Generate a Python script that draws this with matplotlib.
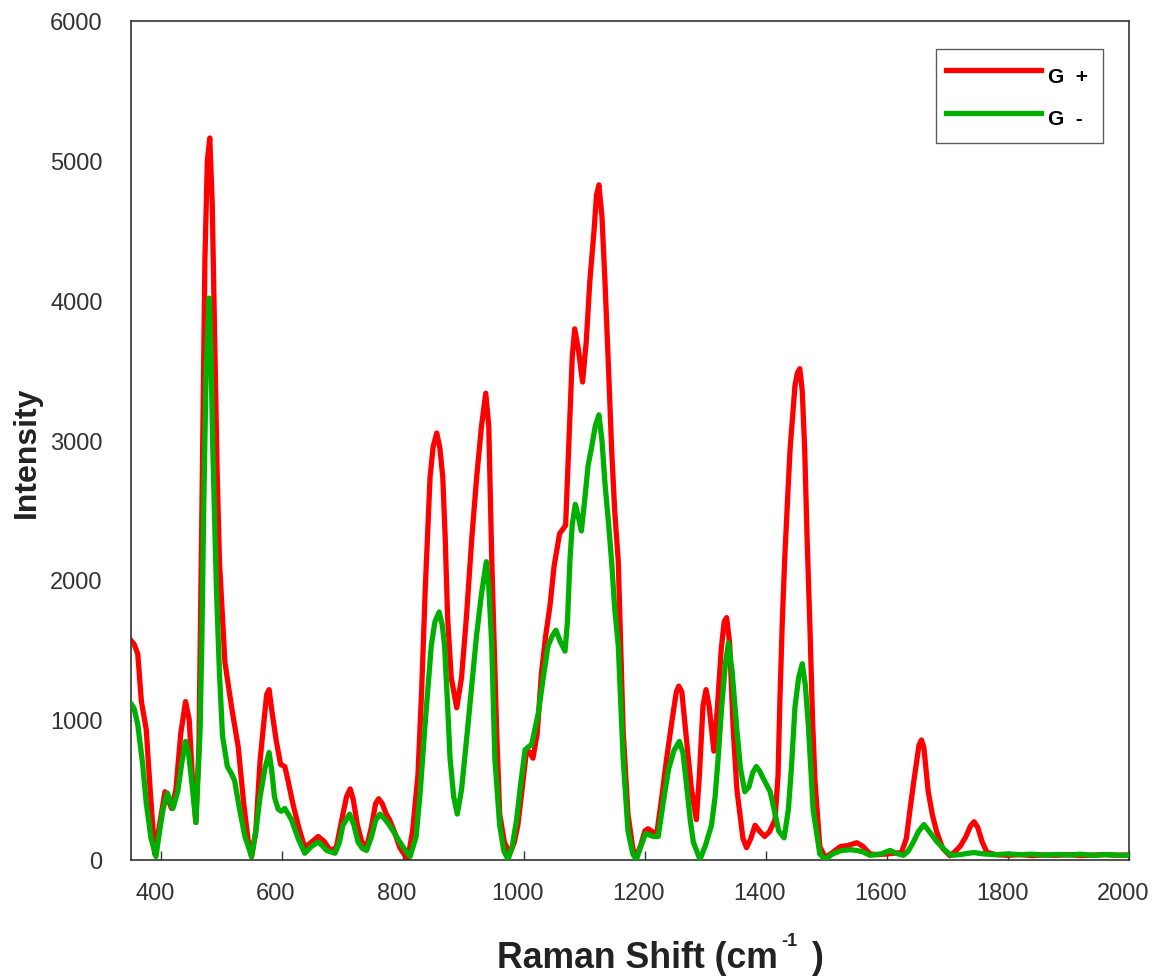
import matplotlib.pyplot as plt
import matplotlib.transforms as mtransforms

# G+ spectrum (Raman shift, intensity)
gpos_x = [350, 356, 362, 368, 376, 382, 390, 398, 407, 418, 425, 433, 441, 447, 452, 458,
          463, 468, 473, 477, 481, 485, 489, 493, 497, 506, 517, 528, 537, 544, 550, 557,
          564, 569, 575, 579, 584, 591, 598, 605, 611, 618, 628, 638, 648, 660, 670, 680,
          690, 701, 707, 713, 718, 725, 732, 740, 748, 755, 760, 766, 772, 778, 786, 795,
          808, 816, 825, 831, 837, 845, 850, 856, 861, 866, 870, 874, 880, 889, 897, 905,
          914, 922, 930, 937, 942, 947, 955, 960, 968, 977, 984, 990, 997, 1004, 1009, 1015,
          1022, 1029, 1036, 1043, 1050, 1059, 1069, 1074, 1080, 1084, 1090, 1097, 1103, 1109,
          1116, 1120, 1124, 1129, 1134, 1140, 1145, 1150, 1156, 1164, 1172, 1180, 1186, 1193,
          1200, 1205, 1212, 1219, 1228, 1236, 1245, 1252, 1256, 1261, 1269, 1277, 1285, 1290,
          1296, 1301, 1306, 1314, 1320, 1326, 1331, 1335, 1340, 1346, 1352, 1357, 1362, 1368,
          1375, 1382, 1390, 1398, 1406, 1415, 1420, 1423, 1427, 1431, 1436, 1440, 1448, 1452,
          1456, 1460, 1464, 1468, 1473, 1477, 1481, 1489, 1498, 1510, 1523, 1535, 1550, 1560,
          1572, 1585, 1600, 1612, 1624, 1632, 1638, 1644, 1649, 1653, 1657, 1661, 1668, 1675,
          1682, 1692, 1704, 1712, 1721, 1730, 1738, 1744, 1750, 1757, 1765, 1780, 1800, 1820,
          1840, 1860, 1880, 1900, 1920, 1940, 1960, 1980, 2000]
gpos_y = [1570, 1540, 1470, 1130, 930, 530, 40, 250, 485, 365, 500, 900, 1130, 1000, 600, 265,
          800, 2500, 4300, 5000, 5160, 4700, 3735, 2800, 2130, 1410, 1090, 805, 405, 150, 20, 200,
          700, 925, 1180, 1215, 1050, 845, 680, 665, 550, 405, 230, 85, 120, 165, 130, 65,
          85, 325, 450, 505, 430, 245, 130, 85, 230, 400, 435, 400, 330, 285, 200, 85,
          0, 200, 605, 1200, 1930, 2735, 2950, 3050, 2950, 2735, 2300, 1730, 1300, 1085, 1300, 1730,
          2300, 2735, 3100, 3335, 3100, 2130, 925, 325, 120, 45, 120, 245, 500, 765, 770, 725,
          900, 1330, 1600, 1810, 2100, 2330, 2390, 2935, 3600, 3795, 3650, 3415, 3700, 4135,
          4500, 4750, 4825, 4600, 4135, 3500, 2935, 2500, 2130, 925, 325, 80, 20, 100,
          205, 220, 200, 165, 450, 725, 1000, 1200, 1240, 1200, 845, 500, 285, 600,
          1100, 1215, 1100, 775, 1100, 1500, 1700, 1730, 1550, 925, 500, 325, 150, 85,
          150, 245, 200, 165, 200, 285, 600, 1130, 1700, 2150, 2600, 2940, 3390, 3480,
          3510, 3350, 2940, 2300, 1620, 1000, 567, 93, 14, 50, 93, 100, 120, 95,
          40, 35, 40, 45, 50, 150, 355, 550, 700, 820, 855, 800, 490, 320,
          200, 80, 27, 55, 95, 160, 240, 270, 230, 130, 52, 35, 30, 35,
          28, 33, 30, 35, 28, 32, 36, 30, 33]

# G- spectrum
gneg_x = [350, 356, 362, 370, 376, 384, 392, 398, 404, 411, 420, 428, 435, 441, 446, 451,
          458, 465, 468, 471, 475, 480, 483, 486, 492, 497, 502, 510, 516, 522, 530, 539,
          550, 557, 564, 572, 579, 583, 588, 594, 599, 605, 610, 616, 627, 638, 648, 660,
          667, 674, 688, 695, 701, 712, 719, 726, 733, 740, 748, 755, 762, 770, 778, 786,
          795, 805, 812, 822, 829, 836, 842, 847, 853, 860, 865, 869, 874, 878, 884, 890,
          897, 905, 914, 922, 930, 938, 942, 947, 952, 960, 967, 974, 981, 988, 995, 1002,
          1013, 1024, 1032, 1040, 1047, 1053, 1060, 1068, 1072, 1076, 1080, 1085, 1090, 1095,
          1100, 1106, 1112, 1118, 1124, 1129, 1134, 1140, 1145, 1150, 1156, 1164, 1172, 1180,
          1186, 1193, 1201, 1208, 1214, 1222, 1230, 1239, 1248, 1257, 1263, 1269, 1275, 1280,
          1291, 1300, 1310, 1316, 1321, 1327, 1333, 1338, 1344, 1352, 1358, 1365, 1372, 1378,
          1384, 1390, 1395, 1407, 1414, 1421, 1430, 1437, 1442, 1448, 1454, 1460, 1465, 1470,
          1478, 1489, 1498, 1510, 1525, 1540, 1550, 1560, 1572, 1590, 1605, 1615, 1627, 1635,
          1643, 1652, 1661, 1670, 1682, 1695, 1706, 1720, 1743, 1760, 1780, 1800, 1820, 1840,
          1860, 1880, 1900, 1920, 1940, 1960, 1980, 2000]
gneg_y = [1120, 1080, 965, 685, 405, 150, 22, 200, 365, 475, 365, 485, 700, 845, 760, 565,
          265, 925, 1600, 2530, 3500, 4015, 3600, 2935, 1930, 1330, 885, 665, 620, 565, 365, 165,
          22, 200, 445, 650, 765, 650, 445, 360, 345, 365, 330, 285, 150, 45, 90, 125,
          100, 65, 45, 120, 245, 325, 250, 125, 80, 65, 160, 280, 325, 290, 245, 190,
          125, 60, 22, 165, 500, 925, 1250, 1530, 1700, 1770, 1680, 1530, 1100, 725, 450, 325,
          500, 845, 1250, 1610, 1900, 2130, 1950, 1530, 725, 245, 60, 0, 100, 285, 550, 785,
          825, 1050, 1300, 1530, 1600, 1640, 1560, 1490, 1700, 2130, 2400, 2540, 2450, 2350,
          2550, 2815, 2950, 3100, 3180, 3000, 2690, 2400, 2130, 1800, 1530, 725, 205, 40,
          0, 90, 185, 175, 165, 165, 400, 645, 780, 845, 760, 525, 280, 125,
          0, 100, 245, 450, 725, 1100, 1400, 1550, 1350, 925, 650, 485, 520, 620,
          665, 630, 585, 485, 350, 205, 155, 355, 650, 1090, 1300, 1400, 1250, 965,
          355, 40, 0, 40, 65, 70, 65, 55, 30, 40, 65, 45, 30, 60,
          120, 200, 250, 200, 130, 70, 30, 35, 50, 40, 35, 40, 35, 38,
          32, 36, 33, 38, 30, 35, 32, 30]

plt.rcParams['font.family'] = ['Liberation Sans', 'DejaVu Sans']
txt_col = '#333333'

fig = plt.figure(figsize=(11.58, 9.79), dpi=100)
ax = fig.add_axes([0.1127, 0.1210, 0.8623, 0.857])

ax.plot(gpos_x, gpos_y, color='#ff0000', linewidth=3.8, label='G  +', zorder=2)
ax.plot(gneg_x, gneg_y, color='#00b000', linewidth=3.8, label='G  -', zorder=3)

ax.set_xlim(350, 2000)
ax.set_ylim(0, 6000)
ax.set_xticks(range(400, 2001, 200))
ax.set_yticks(range(0, 6001, 1000))
ax.tick_params(axis='x', direction='in', length=6.5, width=1, labelsize=17, pad=16,
               color=txt_col, labelcolor=txt_col)
ax.tick_params(axis='y', length=0, labelsize=17, pad=20, labelcolor=txt_col)
shift = mtransforms.ScaledTranslation(-6 / 100, 0, fig.dpi_scale_trans)
for lbl in ax.get_xticklabels():
    lbl.set_transform(lbl.get_transform() + shift)
for s in ax.spines.values():
    s.set_color(txt_col)
    s.set_linewidth(1.2)

# axis titles
fig.text(27 / 1158, 1 - 452 / 979, 'Intensity', rotation=90, ha='center', va='center',
         fontsize=23, fontweight='bold', color='#222222')
fig.text(497 / 1158, 1 - 968 / 979, 'Raman Shift (cm', ha='left', va='baseline',
         fontsize=25.7, fontweight='bold', color='#222222')
fig.text(781 / 1158, 1 - 946 / 979, '-1', ha='left', va='baseline',
         fontsize=13, fontweight='bold', color='#222222')
fig.text(812 / 1158, 1 - 968 / 979, ')', ha='left', va='baseline',
         fontsize=25.7, fontweight='bold', color='#222222')

leg = ax.legend(loc='upper left', bbox_to_anchor=(0.8068, 0.8548, 0.1672, 0.1107),
                mode='expand', prop={'weight': 'bold', 'size': 15}, frameon=True,
                fancybox=False, handlelength=4.6, handleheight=2.0, handletextpad=0.3,
                labelspacing=0.5, borderpad=0.45, borderaxespad=0)
leg.get_frame().set_edgecolor(txt_col)
leg.get_frame().set_linewidth(1.0)

fig.savefig('out.png', dpi=100)
